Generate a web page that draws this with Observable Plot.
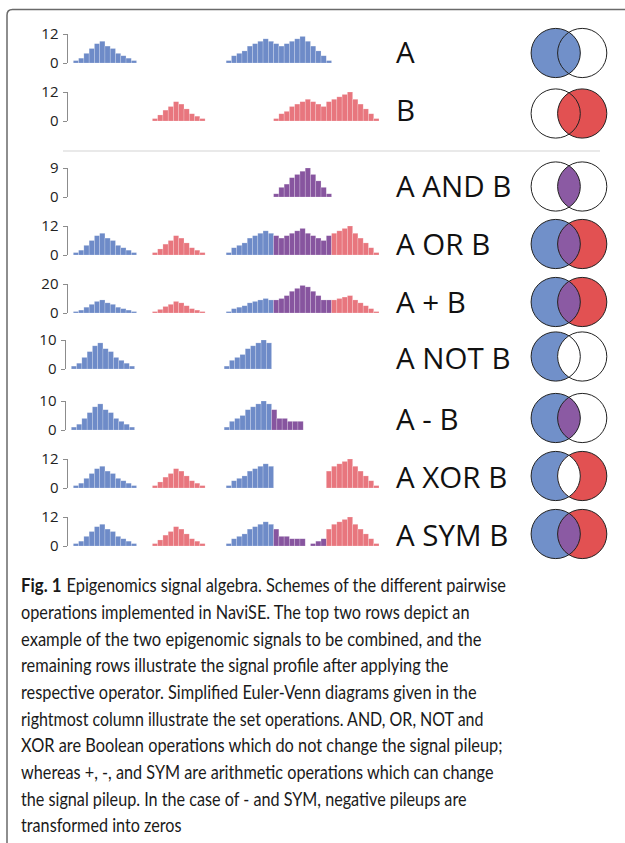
<!DOCTYPE html>
<html><head><meta charset="utf-8">
<script src="https://cdn.jsdelivr.net/npm/d3@7"></script>
<script src="https://cdn.jsdelivr.net/npm/@observablehq/plot@0.6"></script>
<style>
html,body{margin:0;padding:0;background:#fff;}
#fig{position:relative;width:625px;height:843px;overflow:hidden;background:#fff;}
#fig > div.row{position:absolute;left:0;}
#fig > svg.overlay{position:absolute;left:0;top:0;}
</style></head><body><div id="fig"></div>
<script>
// ---- data (pileup values per genomic bin) ----
const A1 = [1, 2, 4, 6, 8, 9, 7, 6, 4, 3, 2, 1];                                   // starts bin 0
const A2 = [1, 3, 4, 5, 7, 8, 9, 10, 9, 8, 7, 8, 9, 10, 11, 9, 7, 5, 3, 1];         // starts bin 29
const B1 = [1, 2.5, 4.5, 6, 8, 7, 5, 3, 2, 1];                                      // starts bin 15
const B2 = [1, 3, 4, 6, 7, 8, 9, 8, 7, 6, 8, 9, 10, 11, 12, 9, 7, 5, 3, 1];         // starts bin 38
const starts = {A1: 0, A2: 29, B1: 15, B2: 38};
const andMid = [1, 3, 4, 6, 7, 8, 9, 7, 5, 3, 1];          // bin 38
const orMid = [8, 7, 8, 9, 10, 11, 9, 8, 7, 6, 8];         // bin 38
const sumMid = [9, 10, 12, 15, 17, 19, 18, 15, 12, 9, 9];  // bin 38
const minusMid = [7, 4, 4, 3, 3, 3];                       // bin 38
const symRightPurple = [1, 2, 3];                          // bin 45
const xorRight = [7, 9, 10, 11, 12, 9, 7, 5, 3, 1];        // bin 48
const labels = ["A", "B", "A AND B", "A OR B", "A + B", "A NOT B", "A - B", "A XOR B", "A SYM B"];
const yMax = [12, 12, 9, 12, 20, 10, 10, 12, 12];
const vennFill = [ // [left only, right only, overlap]
  ["A", null, "A"], [null, "B", "B"], [null, null, "AB"], ["A", "B", "AB"], ["A", "B", "AB"],
  ["A", null, "white"], ["A", null, "AB"], ["A", "B", "white"], ["A", "B", "AB"]
];
const captionBold = "Fig. 1";
const captionLines = [
  "Epigenomics signal algebra. Schemes of the different pairwise",
  "operations implemented in NaviSE. The top two rows depict an",
  "example of the two epigenomic signals to be combined, and the",
  "remaining rows illustrate the signal profile after applying the",
  "respective operator. Simplified Euler-Venn diagrams given in the",
  "rightmost column illustrate the set operations. AND, OR, NOT and",
  "XOR are Boolean operations which do not change the signal pileup;",
  "whereas +, -, and SYM are arithmetic operations which can change",
  "the signal pileup. In the case of - and SYM, negative pileups are",
  "transformed into zeros"
];

// segments per row: [start bin, series kind, values]
const rows = [
  [[starts.A1, "A", A1], [starts.A2, "A", A2]],
  [[starts.B1, "B", B1], [starts.B2, "B", B2]],
  [[38, "AB", andMid]],
  [[starts.A1, "A", A1], [starts.B1, "B", B1], [starts.A2, "A", A2.slice(0, 9)], [38, "AB", orMid], [49, "B", B2.slice(11)]],
  [[starts.A1, "A", A1], [starts.B1, "B", B1], [starts.A2, "A", A2.slice(0, 9)], [38, "AB", sumMid], [49, "B", B2.slice(11)]],
  [[starts.A1, "A", A1], [starts.A2, "A", A2.slice(0, 9)]],
  [[starts.A1, "A", A1], [starts.A2, "A", A2.slice(0, 9)], [38, "AB", minusMid]],
  [[starts.A1, "A", A1], [starts.B1, "B", B1], [starts.A2, "A", A2.slice(0, 9)], [48, "B", xorRight]],
  [[starts.A1, "A", A1], [starts.B1, "B", B1], [starts.A2, "A", A2.slice(0, 9)], [38, "AB", minusMid], [45, "AB", symRightPurple], [48, "B", xorRight]]
];

// ---- styling / layout ----
const barColor = {A: "#6e8bc8", B: "#e8767e", AB: "#87559f"};
const vennColor = {A: "#7190c9", B: "#e25152", AB: "#8b5aa3", white: "#ffffff"};
const baseY = [63.3, 121, 197, 255, 313.3, 369, 430, 487.7, 546];
const shiftX = [0, 0, 0, 0, 0, -2, -2, 0, 0];
const vennY = [53, 113.5, 186.5, 244, 302, 356.5, 418, 476, 534];

const fig = document.getElementById("fig");

rows.forEach((segs, i) => {
  const bars = segs.flatMap(([s, k, vals]) => vals.map((v, j) => ({x1: s + j, x2: s + j + 1, v, fill: barColor[k]})));
  const chart = Plot.plot({
    width: 385, height: 46, marginLeft: 67, marginRight: 6, marginTop: 9, marginBottom: 8,
    x: {domain: [-1.2, 58], axis: null},
    y: {domain: [0, yMax[i]]},
    color: {type: "identity"},
    style: {background: "transparent", fontFamily: "Open Sans", fontSize: "15px", overflow: "visible"},
    marks: [
      Plot.rectY(bars, {x1: "x1", x2: "x2", y: "v", fill: "fill", stroke: "#ffffff", strokeOpacity: 0.35, strokeWidth: 0.6}),
      Plot.ruleX([-1.2], {y1: 0, y2: yMax[i], stroke: "#8c8c8c", strokeWidth: 1}),
      Plot.axisY({ticks: [0, yMax[i]], tickSize: 4, tickPadding: 5, stroke: "#8c8c8c", fill: "#222", label: null, tickFormat: d => String(d)})
    ]
  });
  const div = document.createElement("div");
  div.className = "row";
  div.style.top = (baseY[i] - 38) + "px";
  div.style.left = shiftX[i] + "px";
  div.appendChild(chart);
  fig.appendChild(div);
});

// overlay: frame, separator, labels, venn diagrams, caption
const svg = d3.create("svg").attr("class", "overlay").attr("width", 625).attr("height", 843);
svg.append("path").attr("d", "M7,843 V15 Q7,9.5 12.5,9.5 H625").attr("fill", "none").attr("stroke", "#6a6a6a").attr("stroke-width", 1.5);
svg.append("line").attr("x1", 63).attr("x2", 600).attr("y1", 151).attr("y2", 151).attr("stroke", "#d4d4d4").attr("stroke-width", 1.2);

labels.forEach((t, i) => {
  svg.append("text").attr("x", 396).attr("y", baseY[i]).attr("font-family", "Open Sans").attr("font-size", 29.5)
    .attr("fill", "#111").text(t);
});

const cx1 = 555.7, cx2 = 582.2, r = 24.6;
const hd = (cx2 - cx1) / 2, hh = Math.sqrt(r * r - hd * hd);
vennFill.forEach(([lf, rf, mf], i) => {
  const cy = vennY[i], xm = cx1 + hd;
  const g = svg.append("g");
  g.append("circle").attr("cx", cx1).attr("cy", cy).attr("r", r).attr("fill", lf ? vennColor[lf] : "none");
  g.append("circle").attr("cx", cx2).attr("cy", cy).attr("r", r).attr("fill", rf ? vennColor[rf] : "none");
  g.append("path").attr("d", `M${xm},${cy - hh} A${r},${r} 0 0 1 ${xm},${cy + hh} A${r},${r} 0 0 1 ${xm},${cy - hh} Z`)
    .attr("fill", mf ? vennColor[mf] : "none");
  g.append("circle").attr("cx", cx1).attr("cy", cy).attr("r", r).attr("fill", "none").attr("stroke", "#222").attr("stroke-width", 1);
  g.append("circle").attr("cx", cx2).attr("cy", cy).attr("r", r).attr("fill", "none").attr("stroke", "#222").attr("stroke-width", 1);
});

// caption
svg.append("text").attr("x", 21).attr("y", 592.3).attr("font-family", "Lato").attr("font-size", 19)
  .attr("font-weight", "bold").attr("fill", "#1a1a1a")
  .attr("textLength", 40.5).attr("lengthAdjust", "spacingAndGlyphs").text(captionBold);
const lineX = [66.5, 21, 21, 21, 21, 21, 21, 21, 21, 21];
const lineEnd = [506, 469.5, 481.5, 448.5, 476.5, 483.5, 502.5, 493.5, 466.5, 181.5];
captionLines.forEach((line, i) => {
  svg.append("text").attr("x", lineX[i]).attr("y", 592.3 + i * 26.67)
    .attr("font-family", "Lato").attr("font-size", 19).attr("fill", "#1a1a1a")
    .attr("textLength", lineEnd[i] - lineX[i]).attr("lengthAdjust", "spacingAndGlyphs").text(line);
});
fig.appendChild(svg.node());
</script></body></html>
